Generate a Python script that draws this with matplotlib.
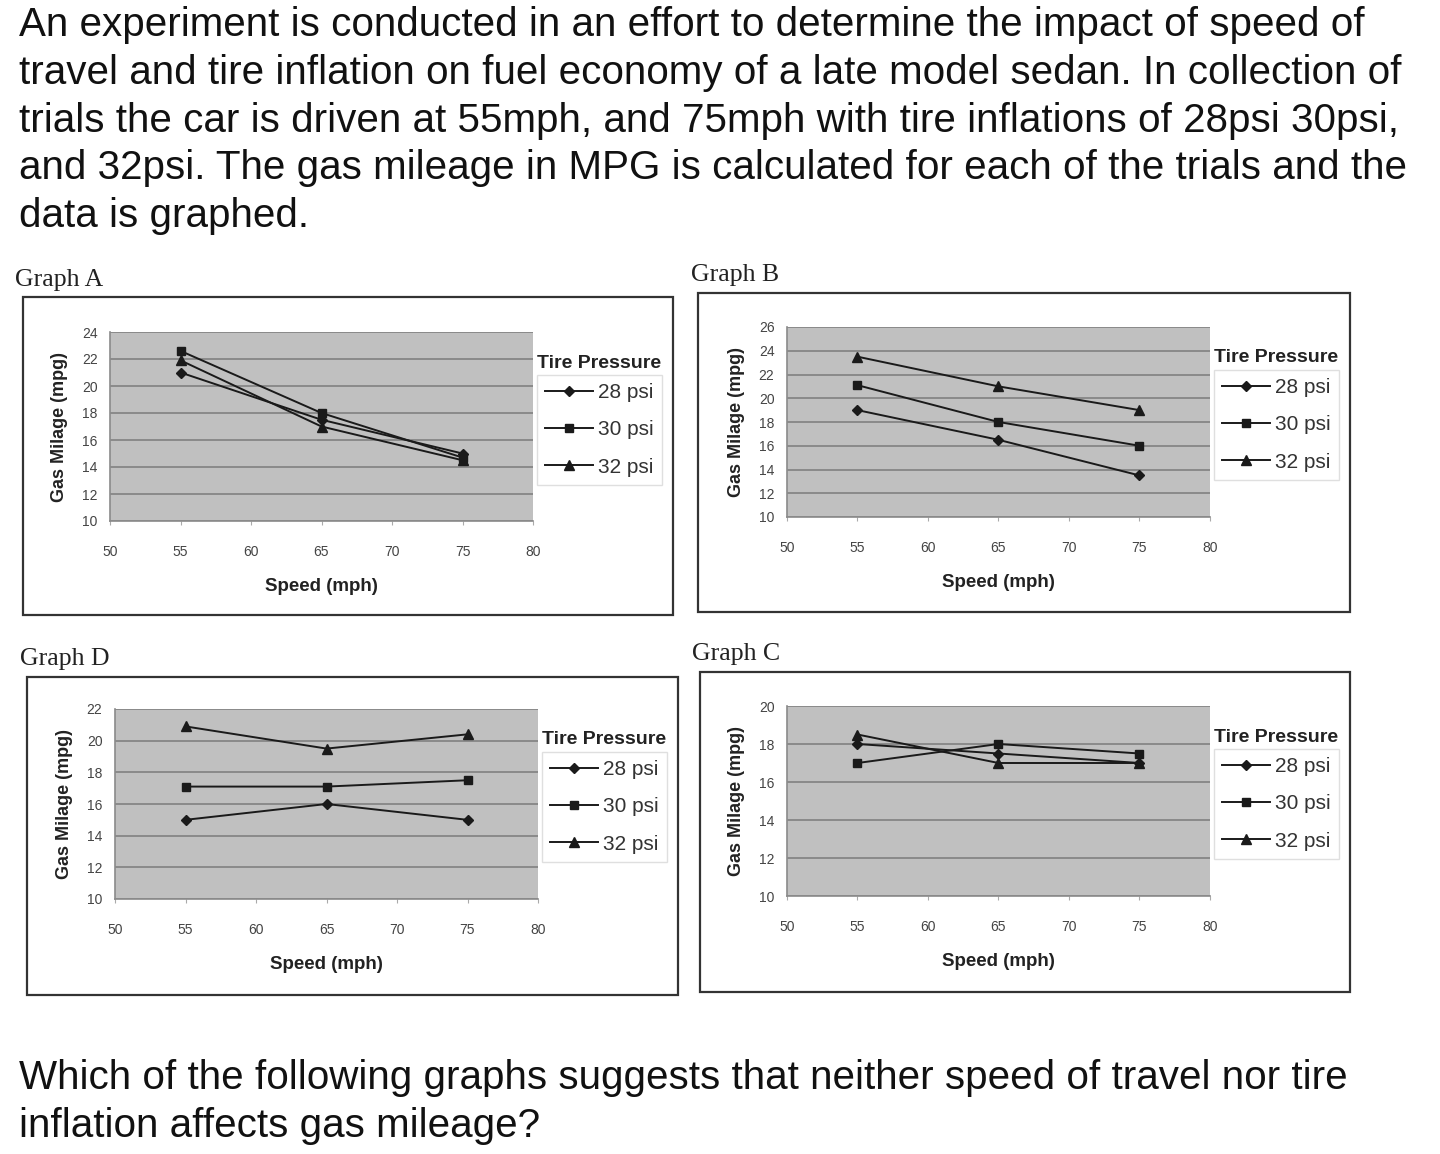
import matplotlib
matplotlib.use('Agg')
import matplotlib.pyplot as plt
from matplotlib.patches import Rectangle

W, H = 1440, 1154

# --- texto ---
intro_lines = [
    "An experiment is conducted in an effort to determine the impact of speed of",
    "travel and tire inflation on fuel economy of a late model sedan. In collection of",
    "trials the car is driven at 55mph, and 75mph with tire inflations of 28psi 30psi,",
    "and 32psi. The gas mileage in MPG is calculated for each of the trials and the",
    "data is graphed.",
]
question_lines = [
    "Which of the following graphs suggests that neither speed of travel nor tire",
    "inflation affects gas mileage?",
]

# --- dados ---
speeds = [55, 65, 75]
pressures = ["28 psi", "30 psi", "32 psi"]

graph_a_28 = [21.0, 17.5, 15.0]
graph_a_30 = [22.6, 18.0, 14.7]
graph_a_32 = [21.9, 17.0, 14.5]

graph_b_28 = [19.0, 16.5, 13.5]
graph_b_30 = [21.1, 18.0, 16.0]
graph_b_32 = [23.5, 21.0, 19.0]

graph_d_28 = [15.0, 16.0, 15.0]
graph_d_30 = [17.1, 17.1, 17.5]
graph_d_32 = [20.9, 19.5, 20.4]

graph_c_28 = [18.0, 17.5, 17.0]
graph_c_30 = [17.0, 18.0, 17.5]
graph_c_32 = [18.5, 17.0, 17.0]

y_max = {"A": 24, "B": 26, "D": 22, "C": 20}

fig = plt.figure(figsize=(W / 100, H / 100), dpi=100)


def fx(x):
    return x / W


def fy(y):
    return 1 - y / H


sans = "Liberation Sans"
serif = "Liberation Serif"

for i, line in enumerate(intro_lines):
    fig.text(fx(19), fy(36 + i * 47.8), line, fontsize=29.1, family=sans,
             va='baseline', ha='left', color='#111111')
for i, line in enumerate(question_lines):
    fig.text(fx(19), fy(1089 + i * 47.8), line, fontsize=29.1, family=sans,
             va='baseline', ha='left', color='#111111')

markers = ['D', 's', '^']
msizes = [5, 6, 6.5]


def panel(label, lab_xy, box, plot, series, ymax):
    # rótulo "Graph X" e moldura
    fig.text(fx(lab_xy[0]), fy(lab_xy[1]), label, fontsize=18.5, family=serif,
             va='baseline', ha='left', color='#222222')
    x0, y0, x1, y1 = box
    fig.patches.append(Rectangle((fx(x0), fy(y1)), fx(x1 - x0), (y1 - y0) / H,
                                 transform=fig.transFigure, fill=False,
                                 edgecolor='#333333', linewidth=1.6))
    px0, py0, px1, py1 = plot
    ax = fig.add_axes([fx(px0), fy(py1), fx(px1 - px0), (py1 - py0) / H])
    ax.set_facecolor('#c0c0c0')
    ax.set_xlim(50, 80)
    ax.set_ylim(10, ymax)
    ax.set_xticks(range(50, 81, 5))
    ax.set_yticks(range(10, ymax + 1, 2))
    ax.yaxis.grid(True, color='#8a8a8a', linewidth=1.4)
    ax.set_axisbelow(True)
    for s in ['top', 'right']:
        ax.spines[s].set_visible(False)
    for s in ['left', 'bottom']:
        ax.spines[s].set_color('#8a8a8a')
        ax.spines[s].set_linewidth(1.2)
    ax.tick_params(axis='x', labelsize=10, length=3, pad=14, color='#aaaaaa',
                   labelcolor='#444444')
    ax.tick_params(axis='y', labelsize=10, length=0, pad=9, labelcolor='#444444')
    for t in ax.get_xticklabels() + ax.get_yticklabels():
        t.set_family(sans)
    ax.set_xlabel("Speed (mph)", fontsize=13.5, family=sans, fontweight='bold',
                  labelpad=14, color='#222222')
    ax.set_ylabel("Gas Milage (mpg)", fontsize=13, family=sans, fontweight='bold',
                  labelpad=10, color='#222222')
    handles = []
    for vals, m, ms, name in zip(series, markers, msizes, pressures):
        h, = ax.plot(speeds, vals, color='#1a1a1a', lw=1.4, marker=m,
                     markersize=ms, label=name, clip_on=False)
        handles.append(h)
    # legenda
    lx = px1 + 4
    leg = fig.legend(handles=handles, loc='upper left',
                     bbox_to_anchor=(fx(lx), fy(py0 + 43)), borderaxespad=0,
                     frameon=True, fancybox=False, handlelength=2.3,
                     labelspacing=0.87, borderpad=0.4, handletextpad=0.25,
                     prop={'family': sans, 'size': 15})
    leg.get_frame().set_edgecolor('#d8d8d8')
    leg.get_frame().set_linewidth(1.0)
    for t in leg.get_texts():
        t.set_color('#333333')
    fig.text(fx(lx), fy(py0 + 31), "Tire Pressure", fontsize=14, family=sans,
             fontweight='bold', va='center', ha='left', color='#222222')
    return ax


panels = [
    ("Graph A", (15, 286), (23, 297, 673, 615), (110, 332, 533, 521),
     [graph_a_28, graph_a_30, graph_a_32], y_max["A"]),
    ("Graph B", (691, 281), (698, 293, 1350, 612), (787, 327, 1210, 517),
     [graph_b_28, graph_b_30, graph_b_32], y_max["B"]),
    ("Graph D", (20, 665), (27, 677, 678, 995), (115, 709, 538, 899),
     [graph_d_28, graph_d_30, graph_d_32], y_max["D"]),
    ("Graph C", (692, 660), (700, 672, 1350, 992), (787, 706, 1210, 896),
     [graph_c_28, graph_c_30, graph_c_32], y_max["C"]),
]

for label, lab_xy, box, plot, series, ymax in panels:
    panel(label, lab_xy, box, plot, series, ymax)

fig.savefig("out.png", dpi=100, facecolor='white')
